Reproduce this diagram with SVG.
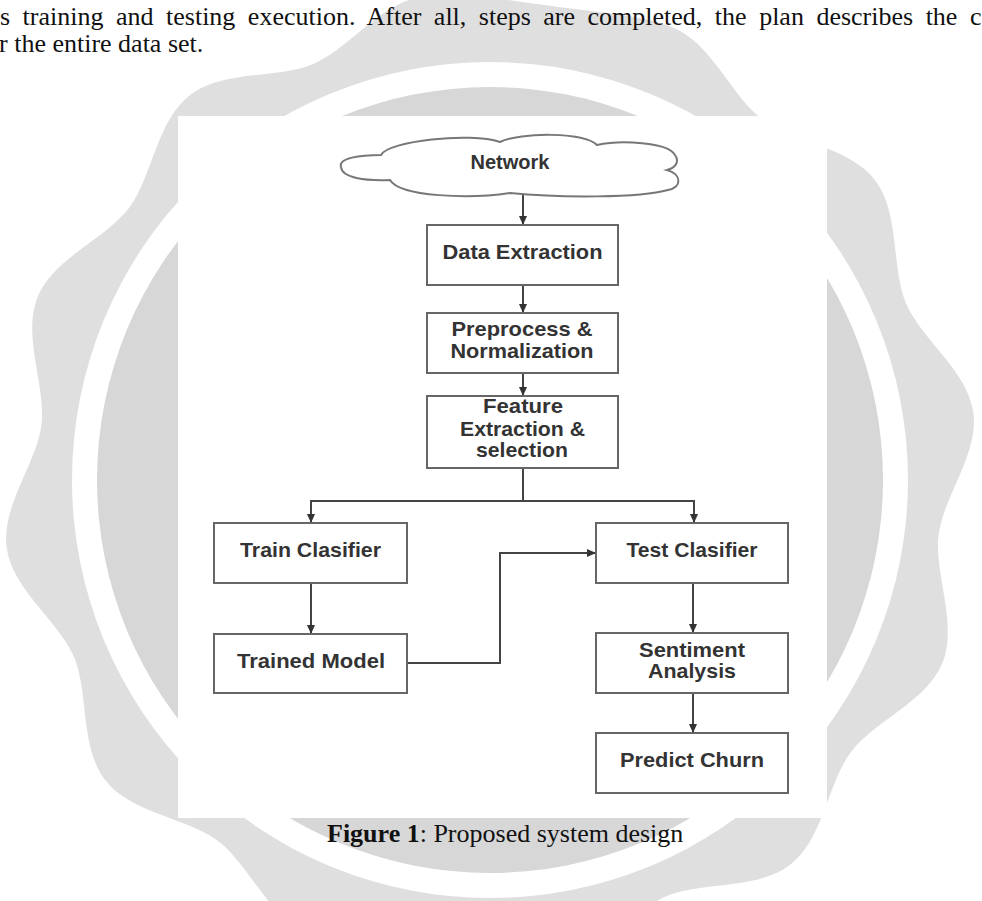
<svg xmlns="http://www.w3.org/2000/svg" width="982" height="901" viewBox="0 0 982 901">
<style>
.para{font-family:"Liberation Serif","Times New Roman",serif;font-size:26px;fill:#111}
.node rect{fill:#fff;stroke:#666;stroke-width:2}
.cloud{fill:#fff;stroke:#777;stroke-width:2}
.lbl{font-family:"Liberation Sans",Arial,sans-serif;font-size:21px;font-weight:bold;fill:#333;text-anchor:middle}
.conn{fill:none;stroke:#444;stroke-width:2}
</style>
<defs>
<marker id="arr" markerUnits="userSpaceOnUse" markerWidth="10" markerHeight="10" viewBox="0 0 10 10" refX="9" refY="5" orient="auto">
<path d="M0,1 L9,5 L0,9 Z" fill="#333"/>
</marker>
</defs>
<rect x="0" y="0" width="982" height="901" fill="#fff"/>
<g id="watermark">
<path fill="#dfdfdf" d="M973.3,412.1 C967.5,370.5 921.3,339.3 906.1,303.4 C890.9,267.5 900.4,212.6 874.5,179.5 C848.6,146.4 793.1,142.5 762,119 C730.9,95.5 711.7,43.2 672.8,27.5 C640,14 590,12 548.3,5.6 C509.6,0.8 463.7,-9.1 422.1,-3.3 C380.5,2.5 349.3,48.7 313.4,63.9 C277.5,79.1 222.6,69.6 189.5,95.5 C156.4,121.4 152.5,176.9 129,208 C105.5,239.1 53.2,258.3 37.5,297.2 C21.8,336.1 46.2,386.2 41.4,424.9 C36.6,463.6 0.9,506.3 6.7,547.9 C12.5,589.5 58.7,620.7 73.9,656.6 C89.1,692.5 79.6,747.4 105.5,780.5 C131.4,813.6 186.9,817.5 218,841 C249.1,864.5 268.3,916.8 307.2,932.5 C346.1,948.2 396.2,923.8 434.9,928.6 C473.6,933.4 516.3,969.1 557.9,963.3 C599.5,957.5 630.7,911.3 666.6,896.1 C702.5,880.9 757.4,890.4 790.5,864.5 C823.6,838.6 827.5,783.1 851,752 C874.5,720.9 926.8,701.7 942.5,662.8 C958.2,623.9 933.8,573.8 938.6,535.1 C943.4,496.4 979.1,453.7 973.3,412.1 Z"/>
<circle cx="490" cy="480" r="418" fill="#fff"/>
<circle cx="490" cy="480" r="393" fill="#d7d7d7"/>
</g>
<g id="paragraph">
<text class="para" x="0" y="25" word-spacing="6">s training and testing execution. After all, steps are completed, the plan describes the c</text>
<text class="para" x="-1" y="52">r the entire data set.</text>
</g>
<rect id="figure-bg" x="178" y="116" width="649" height="702" fill="#fff"/>
<g id="connectors">
<line class="conn" x1="523" y1="194" x2="523" y2="225" marker-end="url(#arr)"/>
<line class="conn" x1="523" y1="285" x2="523" y2="313" marker-end="url(#arr)"/>
<line class="conn" x1="523" y1="373" x2="523" y2="396" marker-end="url(#arr)"/>
<polyline class="conn" points="523,468 523,501"/>
<polyline class="conn" points="523,501 311,501 311,523" marker-end="url(#arr)"/>
<polyline class="conn" points="523,501 694,501 694,523" marker-end="url(#arr)"/>
<line class="conn" x1="311" y1="583" x2="311" y2="634" marker-end="url(#arr)"/>
<polyline class="conn" points="407,663 500,663 500,553 596,553" marker-end="url(#arr)"/>
<line class="conn" x1="693" y1="583" x2="693" y2="633" marker-end="url(#arr)"/>
<line class="conn" x1="693" y1="693" x2="693" y2="733" marker-end="url(#arr)"/>
</g>
<g id="network">
<path class="cloud" d="M341,167 C338,158 360,155 381,155 C388,141 470,132 500,142 C520,132 585,132 597,145 C620,140 668,142 675,155 C680,162 675,168 667,170 C682,174 682,188 668,190 C640,198 560,198 510,193 C470,199 400,197 390,180 C365,181 342,178 341,167 Z"/>
<text class="lbl" x="510" y="169" textLength="79" lengthAdjust="spacingAndGlyphs">Network</text>
</g>
<g id="data-extraction" class="node">
<rect x="427" y="225" width="191" height="60"/>
<text class="lbl" x="522.5" y="259" textLength="160" lengthAdjust="spacingAndGlyphs">Data Extraction</text>
</g>
<g id="preprocess" class="node">
<rect x="427" y="313" width="191" height="60"/>
<text class="lbl" x="522" y="336" textLength="141" lengthAdjust="spacingAndGlyphs">Preprocess &amp;</text>
<text class="lbl" x="522" y="358" textLength="143" lengthAdjust="spacingAndGlyphs">Normalization</text>
</g>
<g id="feature" class="node">
<rect x="427" y="396" width="191" height="72"/>
<text class="lbl" x="523" y="413" textLength="80" lengthAdjust="spacingAndGlyphs">Feature</text>
<text class="lbl" x="522.5" y="436" textLength="125" lengthAdjust="spacingAndGlyphs">Extraction &amp;</text>
<text class="lbl" x="522" y="457" textLength="92" lengthAdjust="spacingAndGlyphs">selection</text>
</g>
<g id="train-clasifier" class="node">
<rect x="214" y="523" width="193" height="60"/>
<text class="lbl" x="310.5" y="557" textLength="141" lengthAdjust="spacingAndGlyphs">Train Clasifier</text>
</g>
<g id="trained-model" class="node">
<rect x="214" y="634" width="193" height="59"/>
<text class="lbl" x="311" y="668" textLength="148" lengthAdjust="spacingAndGlyphs">Trained Model</text>
</g>
<g id="test-clasifier" class="node">
<rect x="596" y="523" width="192" height="60"/>
<text class="lbl" x="692" y="557" textLength="131" lengthAdjust="spacingAndGlyphs">Test Clasifier</text>
</g>
<g id="sentiment" class="node">
<rect x="596" y="633" width="192" height="60"/>
<text class="lbl" x="692" y="657" textLength="106" lengthAdjust="spacingAndGlyphs">Sentiment</text>
<text class="lbl" x="692" y="678" textLength="88" lengthAdjust="spacingAndGlyphs">Analysis</text>
</g>
<g id="predict-churn" class="node">
<rect x="596" y="733" width="192" height="60"/>
<text class="lbl" x="692" y="767" textLength="144" lengthAdjust="spacingAndGlyphs">Predict Churn</text>
</g>
<g id="caption">
<text class="para" x="327" y="842" font-size="26.5"><tspan font-weight="bold">Figure 1</tspan>: Proposed system design</text>
</g>
</svg>
